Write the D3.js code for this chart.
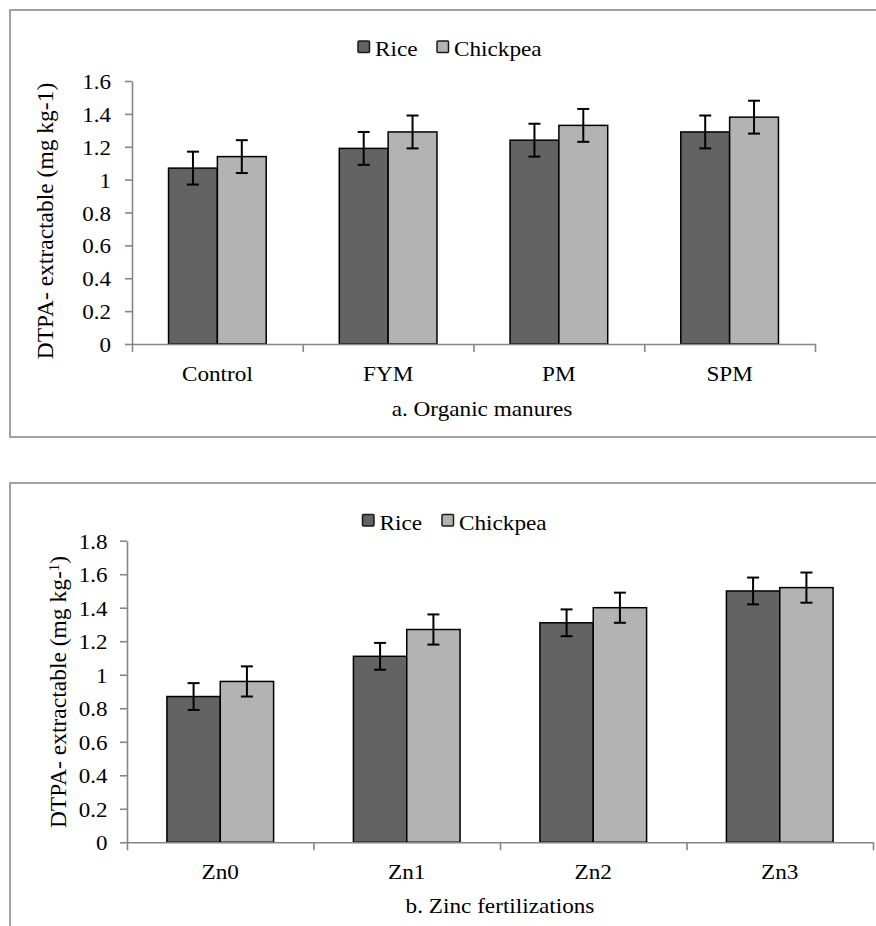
<!DOCTYPE html>
<html>
<head>
<meta charset="utf-8">
<script src="https://cdn.jsdelivr.net/npm/d3@7"></script>
<style>
  html, body { margin: 0; padding: 0; background: #fff; }
  svg { display: block; }
</style>
</head>
<body>
<svg id="chart" width="876" height="926"></svg>
<script>
// ---- Data ----
const seriesNames = ["Rice", "Chickpea"];
const seriesColors = ["#636363", "#b3b3b3"];

const categoriesA = ["Control", "FYM", "PM", "SPM"];
const riceA = [1.07, 1.19, 1.24, 1.29];
const chickpeaA = [1.14, 1.29, 1.33, 1.38];
const riceErrA = [0.10, 0.10, 0.10, 0.10];
const chickpeaErrA = [0.10, 0.10, 0.10, 0.10];
const yTicksA = [0, 0.2, 0.4, 0.6, 0.8, 1, 1.2, 1.4, 1.6];
const xTitleA = "a. Organic manures";

const categoriesB = ["Zn0", "Zn1", "Zn2", "Zn3"];
const riceB = [0.87, 1.11, 1.31, 1.50];
const chickpeaB = [0.96, 1.27, 1.40, 1.52];
const riceErrB = [0.08, 0.08, 0.08, 0.08];
const chickpeaErrB = [0.09, 0.09, 0.09, 0.09];
const yTicksB = [0, 0.2, 0.4, 0.6, 0.8, 1, 1.2, 1.4, 1.6, 1.8];
const xTitleB = "b. Zinc fertilizations";

const yLabelMain = "DTPA- extractable (mg kg-";

// ---- Drawing ----
const svg = d3.select("#chart");
const FONT = "Liberation Serif";
const AXIS = "#868686";
const SX = 1.08;      // horizontal text stretch
const TSX = 1.15;     // tick label stretch

function hText(g, x, y, str, size, anchor, sx) {
  return g.append("text")
    .attr("transform", `translate(${x},${y}) scale(${sx},1)`)
    .attr("text-anchor", anchor)
    .style("font-family", FONT)
    .style("font-size", size + "px")
    .attr("fill", "#000")
    .text(str);
}

function drawChart(cfg) {
  const g = svg.append("g");
  g.append("rect")
    .attr("x", cfg.frame[0]).attr("y", cfg.frame[1])
    .attr("width", cfg.frame[2]).attr("height", cfg.frame[3])
    .attr("fill", "none").attr("stroke", "#8a8a8a").attr("stroke-width", 1.6);

  const x = d3.scaleBand().domain(cfg.categories).range([cfg.x0, cfg.x1]);
  const gap = x.bandwidth() * 0.214;
  const xs = d3.scaleBand().domain(seriesNames).range([gap, x.bandwidth() - gap]);
  const y = d3.scaleLinear().domain([0, cfg.yMax]).range([cfg.yBottom, cfg.yTop]);
  const xb = d3.scaleLinear().domain([0, cfg.categories.length]).range([cfg.x0, cfg.x1]);

  const rows = [];
  cfg.categories.forEach((c, i) => {
    cfg.values.forEach((vals, s) => {
      rows.push({ cat: c, s: seriesNames[s], v: vals[i], e: cfg.errors[s][i], color: seriesColors[s] });
    });
  });

  g.selectAll("rect.bar").data(rows).enter().append("rect")
    .attr("class", "bar")
    .attr("x", d => x(d.cat) + xs(d.s))
    .attr("y", d => y(d.v))
    .attr("width", xs.bandwidth())
    .attr("height", d => y(0) - y(d.v))
    .attr("fill", d => d.color)
    .attr("stroke", "#000").attr("stroke-width", 1.5);

  const yAxis = d3.axisLeft(y).tickValues(cfg.yTicks).tickSize(7).tickSizeOuter(0).tickFormat("");
  const ya = g.append("g").attr("transform", `translate(${cfg.x0},0)`).call(yAxis);
  const xAxis = d3.axisBottom(xb).tickValues(d3.range(cfg.categories.length + 1)).tickSize(8).tickSizeOuter(0).tickFormat("");
  const xa = g.append("g").attr("transform", `translate(0,${y(0)})`).call(xAxis);
  [ya, xa].forEach(a => {
    a.selectAll("path, line").attr("stroke", AXIS).attr("stroke-width", 1.6);
  });

  const cap = 6;
  const cx = d => x(d.cat) + xs(d.s) + xs.bandwidth() / 2;
  const eb = g.selectAll("g.err").data(rows).enter().append("g").attr("class", "err")
    .attr("stroke", "#000").attr("stroke-width", 2);
  eb.append("line")
    .attr("x1", cx).attr("x2", cx)
    .attr("y1", d => y(d.v + d.e)).attr("y2", d => y(d.v - d.e));
  eb.append("line")
    .attr("x1", d => cx(d) - cap).attr("x2", d => cx(d) + cap)
    .attr("y1", d => y(d.v + d.e)).attr("y2", d => y(d.v + d.e));
  eb.append("line")
    .attr("x1", d => cx(d) - cap).attr("x2", d => cx(d) + cap)
    .attr("y1", d => y(d.v - d.e)).attr("y2", d => y(d.v - d.e));

  cfg.yTicks.forEach(t => {
    hText(g, cfg.tickLabelX, y(t) + 8, String(t), 20, "end", TSX);
  });

  cfg.categories.forEach(c => {
    hText(g, x(c) + x.bandwidth() / 2, cfg.catY, c, 21.5, "middle", SX);
  });

  hText(g, cfg.titleX, cfg.titleY, cfg.xTitle, 21.5, "middle", SX);

  const yl = g.append("text")
    .attr("transform", `translate(${cfg.yLabelX},${cfg.yLabelY}) rotate(-90)`)
    .attr("text-anchor", "middle")
    .style("font-family", FONT)
    .style("font-size", "23.5px")
    .attr("fill", "#000");
  yl.append("tspan").text(yLabelMain);
  if (cfg.superscript) {
    yl.append("tspan").attr("dy", "-0.45em").style("font-size", "15px").text("1");
    yl.append("tspan").attr("dy", "0.3em").text(")");
  } else {
    yl.append("tspan").text("1)");
  }

  seriesNames.forEach((s, i) => {
    const lx = cfg.legend[i];
    g.append("rect")
      .attr("x", lx).attr("y", cfg.legendY)
      .attr("width", 11.5).attr("height", 11.5).attr("rx", 1)
      .attr("fill", seriesColors[i]).attr("stroke", "#1a1a1a").attr("stroke-width", 1.5);
    hText(g, lx + 17, cfg.legendY + 15, s, 21.5, "start", SX);
  });
}

drawChart({
  frame: [10, 10, 900, 427],
  categories: categoriesA,
  values: [riceA, chickpeaA],
  errors: [riceErrA, chickpeaErrA],
  yTicks: yTicksA, yMax: 1.6,
  x0: 132, x1: 815, yBottom: 344, yTop: 81,
  tickLabelX: 111, catY: 381, titleX: 482, titleY: 416, xTitle: xTitleA,
  yLabelX: 53, yLabelY: 221, superscript: false,
  legend: [358, 437], legendY: 41
});

drawChart({
  frame: [10, 483, 900, 500],
  categories: categoriesB,
  values: [riceB, chickpeaB],
  errors: [riceErrB, chickpeaErrB],
  yTicks: yTicksB, yMax: 1.8,
  x0: 127, x1: 873, yBottom: 842.3, yTop: 540.7,
  tickLabelX: 107.5, catY: 879, titleX: 500, titleY: 913, xTitle: xTitleB,
  yLabelX: 66, yLabelY: 692, superscript: true,
  legend: [362.5, 442], legendY: 514.5
});
</script>
</body>
</html>
